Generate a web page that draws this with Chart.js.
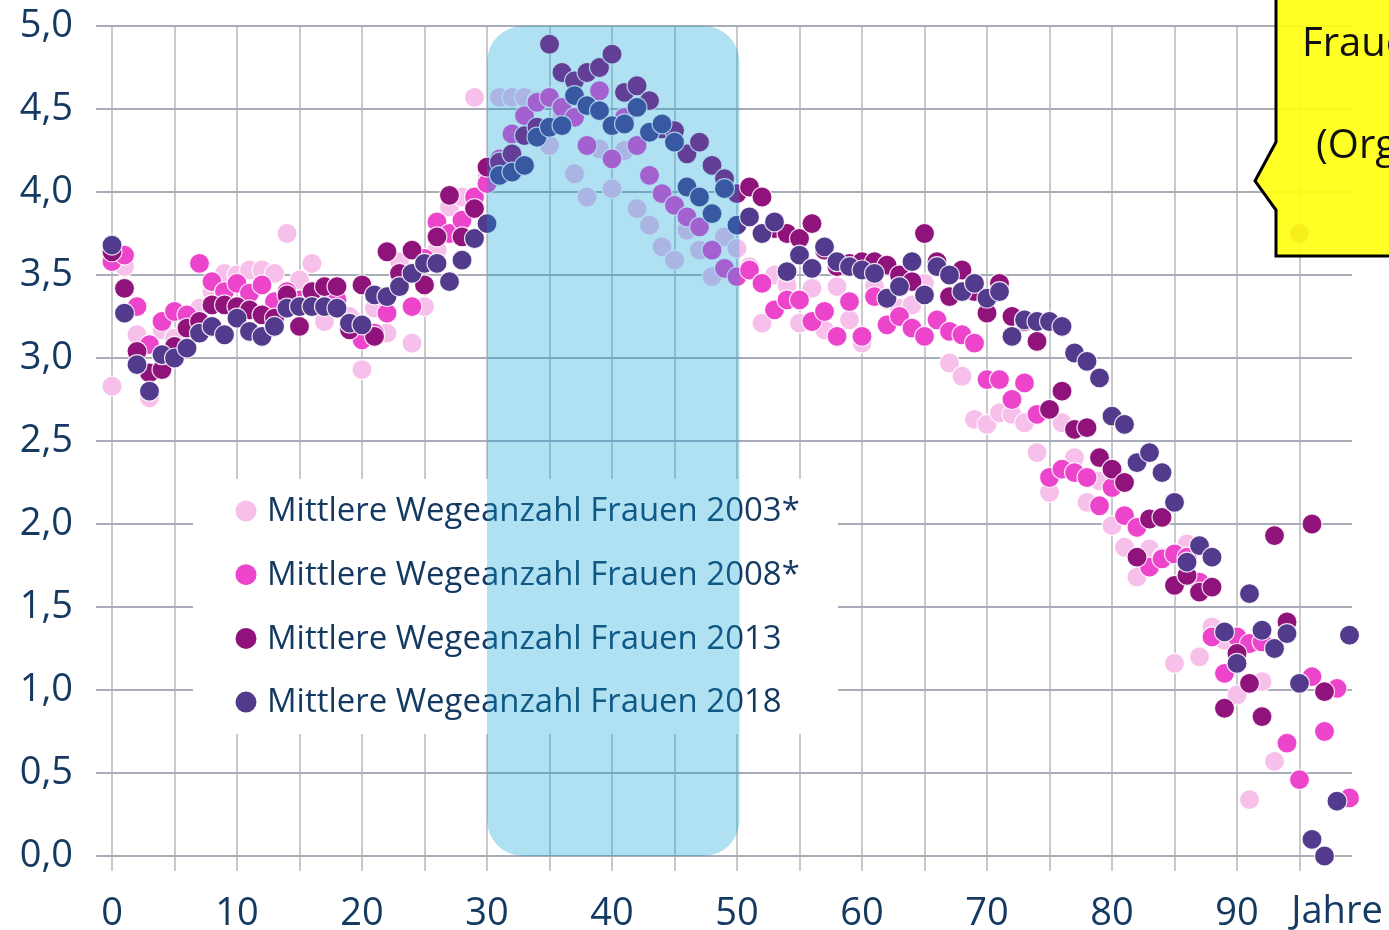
<!DOCTYPE html>
<html>
<head>
<meta charset="utf-8">
<script src="https://cdn.jsdelivr.net/npm/chart.js@4.4.1/dist/chart.umd.min.js"></script>
<style>
  body { margin: 0; background: #fff; }
  #wrap { width: 1389px; height: 930px; position: relative; }
</style>
</head>
<body>
<div id="wrap"><canvas id="chart"></canvas></div>
<script>
// Alter in Jahren
const ages = [0, 1, 2, 3, 4, 5, 6, 7, 8, 9, 10, 11, 12, 13, 14, 15, 16, 17, 18, 19,
  20, 21, 22, 23, 24, 25, 26, 27, 28, 29, 30, 31, 32, 33, 34, 35, 36, 37, 38, 39,
  40, 41, 42, 43, 44, 45, 46, 47, 48, 49, 50, 51, 52, 53, 54, 55, 56, 57, 58, 59,
  60, 61, 62, 63, 64, 65, 66, 67, 68, 69, 70, 71, 72, 73, 74, 75, 76, 77, 78, 79,
  80, 81, 82, 83, 84, 85, 86, 87, 88, 89, 90, 91, 92, 93, 94, 95, 96, 97, 98, 99];

const women2003 = [2.83, 3.55, 3.14, 2.76, 3.17, 3.12, 3.20, 3.30, 3.40, 3.51,
  3.50, 3.53, 3.53, 3.51, 3.75, 3.47, 3.57, 3.22, 3.30, 3.25,
  2.93, 3.30, 3.15, 3.58, 3.09, 3.31, 3.65, 3.91, 3.97, 4.57,
  4.10, 4.57, 4.57, 4.57, 4.55, 4.28, 4.45, 4.11, 3.97, 4.26,
  4.02, 4.25, 3.90, 3.80, 3.67, 3.59, 3.77, 3.65, 3.49, 3.73,
  3.66, 3.55, 3.21, 3.50, 3.44, 3.21, 3.42, 3.17, 3.43, 3.23,
  3.09, 3.43, 3.35, 3.30, 3.32, 3.45, 3.55, 2.97, 2.89, 2.63,
  2.60, 2.67, 2.66, 2.61, 2.43, 2.19, 2.61, 2.40, 2.13, 2.26,
  1.99, 1.86, 1.68, 1.85, 1.80, 1.16, 1.88, 1.20, 1.38, 1.30,
  0.97, 0.34, 1.05, 0.57, null, null, null, null, null, null];

const women2008 = [3.58, 3.62, 3.31, 3.08, 3.22, 3.28, 3.26, 3.57, 3.46, 3.40,
  3.45, 3.39, 3.44, 3.34, 3.40, 3.35, 3.36, 3.38, 3.35, 3.20,
  3.11, 3.15, 3.27, 3.50, 3.31, 3.60, 3.82, 3.75, 3.83, 3.97,
  4.05, 4.20, 4.35, 4.46, 4.54, 4.57, 4.51, 4.45, 4.28, 4.61,
  4.20, 4.45, 4.28, 4.10, 3.99, 3.92, 3.85, 3.79, 3.65, 3.54,
  3.49, 3.53, 3.45, 3.29, 3.35, 3.35, 3.22, 3.28, 3.13, 3.34,
  3.13, 3.37, 3.20, 3.25, 3.18, 3.13, 3.23, 3.16, 3.14, 3.09,
  2.87, 2.87, 2.75, 2.85, 2.66, 2.28, 2.33, 2.31, 2.28, 2.11,
  2.22, 2.05, 1.98, 1.74, 1.79, 1.82, 1.80, 1.65, 1.32, 1.10,
  1.32, 1.28, 1.29, null, 0.68, 0.46, 1.08, 0.75, 1.01, 0.35];

const women2013 = [3.64, 3.42, 3.04, 2.91, 2.93, 3.07, 3.18, 3.22, 3.32, 3.32,
  3.31, 3.29, 3.26, 3.24, 3.38, 3.19, 3.40, 3.43, 3.43, 3.17,
  3.44, 3.13, 3.64, 3.51, 3.65, 3.44, 3.73, 3.98, 3.73, 3.90,
  4.15, 4.18, 4.23, 4.34, 4.39, 4.89, 4.72, 4.67, 4.72, 4.75,
  4.83, 4.60, 4.64, 4.55, 4.38, 4.37, 4.23, 4.30, 4.16, 4.08,
  3.99, 4.03, 3.97, 3.78, 3.75, 3.72, 3.81, 3.65, 3.55, 3.57,
  3.58, 3.58, 3.56, 3.50, 3.46, 3.75, 3.58, 3.37, 3.53, 3.40,
  3.27, 3.45, 3.25, 3.22, 3.10, 2.69, 2.80, 2.57, 2.58, 2.40,
  2.33, 2.25, 1.80, 2.03, 2.04, 1.63, 1.69, 1.59, 1.62, 0.89,
  1.22, 1.04, 0.84, 1.93, 1.41, 3.75, 2.00, 0.99, null, null];

const women2018 = [3.68, 3.27, 2.96, 2.80, 3.02, 3.00, 3.06, 3.15, 3.19, 3.14,
  3.24, 3.16, 3.13, 3.19, 3.30, 3.31, 3.31, 3.31, 3.30, 3.21,
  3.20, 3.38, 3.37, 3.43, 3.51, 3.57, 3.57, 3.46, 3.59, 3.72,
  3.81, 4.10, 4.12, 4.16, 4.33, 4.39, 4.40, 4.58, 4.52, 4.49,
  4.40, 4.41, 4.51, 4.36, 4.41, 4.30, 4.03, 3.97, 3.87, 4.02,
  3.80, 3.85, 3.75, 3.82, 3.52, 3.62, 3.54, 3.67, 3.58, 3.55,
  3.53, 3.51, 3.36, 3.43, 3.58, 3.38, 3.55, 3.50, 3.40, 3.45,
  3.36, 3.40, 3.13, 3.23, 3.22, 3.22, 3.19, 3.03, 2.98, 2.88,
  2.65, 2.60, 2.37, 2.43, 2.31, 2.13, 1.77, 1.87, 1.80, 1.35,
  1.16, 1.58, 1.36, 1.25, 1.34, 1.04, 0.10, 0.00, 0.33, 1.33];

const seriesLabels = [
  'Mittlere Wegeanzahl Frauen 2003*',
  'Mittlere Wegeanzahl Frauen 2008*',
  'Mittlere Wegeanzahl Frauen 2013',
  'Mittlere Wegeanzahl Frauen 2018'
];
const seriesColors = ['#f7c0eb', '#ec45cc', '#8f137b', '#523a8c'];
const xTickValues = [0, 5, 10, 15, 20, 25, 30, 35, 40, 45, 50, 55, 60, 65, 70, 75, 80, 85, 90, 95];
const calloutLines = ['Frauen', '(Organisation)'];

const textColor = '#153a62';
const fontFamily = "'Open Sans', 'Noto Sans', sans-serif";

function toPoints(values) {
  return ages.map((a, i) => ({ x: a, y: values[i] }));
}

const allSeries = [women2003, women2008, women2013, women2018];
const datasets = allSeries.map((vals, i) => ({
  label: seriesLabels[i],
  data: toPoints(vals),
  backgroundColor: seriesColors[i],
  borderColor: 'rgba(255,255,255,0.85)',
  borderWidth: 1.2,
  pointRadius: 10,
  pointHoverRadius: 10,
  order: 3 - i,
  clip: false
}));

// white legend box in the middle of the plot
const legendBox = {
  id: 'legendBox',
  beforeDatasetsDraw(chart) {
    const ctx = chart.ctx;
    ctx.save();
    ctx.fillStyle = '#ffffff';
    ctx.fillRect(193, 479, 645, 255);
    const target = 533;
    ctx.font = '100px ' + fontFamily;
    const w = ctx.measureText(seriesLabels[0]).width;
    const size = Math.min(34, 100 * target / w);
    ctx.font = size + 'px ' + fontFamily;
    ctx.textBaseline = 'middle';
    chart.data.datasets.forEach((ds, i) => {
      const y = 511 + i * 63.7;
      ctx.beginPath();
      ctx.arc(246, y, 10.5, 0, Math.PI * 2);
      ctx.fillStyle = ds.backgroundColor;
      ctx.fill();
      ctx.fillStyle = textColor;
      ctx.fillText(ds.label, 267, y + 1);
    });
    ctx.restore();
  }
};

// light blue rounded band 30-50 Jahre, then callout and axis title
const overlays = {
  id: 'overlays',
  afterDatasetsDraw(chart) {
    const ctx = chart.ctx;
    const xs = chart.scales.x, ys = chart.scales.y;
    const x0 = xs.getPixelForValue(30), x1 = xs.getPixelForValue(50.2);
    const y0 = ys.getPixelForValue(5), y1 = ys.getPixelForValue(0);
    ctx.save();
    ctx.beginPath();
    ctx.roundRect(x0, y0, x1 - x0, y1 - y0, 36);
    ctx.fillStyle = 'rgba(0,158,213,0.31)';
    ctx.fill();

    // yellow callout (cut by the right edge)
    ctx.beginPath();
    ctx.moveTo(1276, -5);
    ctx.lineTo(1400, -5);
    ctx.lineTo(1400, 256);
    ctx.lineTo(1276, 256);
    ctx.lineTo(1276, 210);
    ctx.lineTo(1255, 181);
    ctx.lineTo(1276, 142);
    ctx.closePath();
    ctx.fillStyle = 'rgba(255,255,20,0.93)';
    ctx.fill();
    ctx.lineWidth = 3;
    ctx.strokeStyle = '#000';
    ctx.stroke();
    ctx.fillStyle = '#111';
    ctx.font = '40px ' + fontFamily;
    ctx.textBaseline = 'alphabetic';
    ctx.fillText(calloutLines[0], 1302, 56);
    ctx.fillText(calloutLines[1], 1316, 158);

    // axis title
    ctx.fillStyle = textColor;
    ctx.font = '38px ' + fontFamily;
    ctx.textAlign = 'center';
    ctx.textBaseline = 'middle';
    ctx.fillText('Jahre', xs.getPixelForValue(98), 912);
    ctx.restore();
  }
};

new Chart(document.getElementById('chart'), {
  type: 'scatter',
  data: { datasets },
  plugins: [legendBox, overlays],
  options: {
    responsive: true,
    maintainAspectRatio: false,
    animation: false,
    events: [],
    layout: { padding: { top: 26, right: 37, left: 0, bottom: 0 } },
    plugins: {
      legend: { display: false },
      tooltip: { enabled: false }
    },
    scales: {
      x: {
        type: 'linear',
        min: -1.28,
        max: 99.2,
        afterBuildTicks(scale) {
          scale.ticks = xTickValues.map(v => ({ value: v }));
        },
        afterFit(scale) {
          scale.height = 74;
          scale.paddingLeft = 0;
          scale.paddingRight = 0;
        },
        border: { display: false },
        grid: { color: '#cacace', lineWidth: 2, tickLength: 15 },
        ticks: {
          color: textColor,
          font: { family: fontFamily, size: 38 },
          padding: 20,
          maxRotation: 0,
          autoSkip: false,
          callback: v => (v % 10 === 0 ? String(v) : '')
        }
      },
      y: {
        min: 0,
        max: 5,
        afterFit(scale) {
          scale.width = 96;
          scale.paddingTop = 0;
          scale.paddingBottom = 0;
        },
        border: { display: false },
        grid: { color: '#a9adb9', lineWidth: 2, drawTicks: false },
        ticks: {
          stepSize: 0.5,
          color: textColor,
          font: { family: fontFamily, size: 38 },
          padding: 23,
          callback: v => v.toFixed(1).replace('.', ',')
        }
      }
    }
  }
});
</script>
</body>
</html>
